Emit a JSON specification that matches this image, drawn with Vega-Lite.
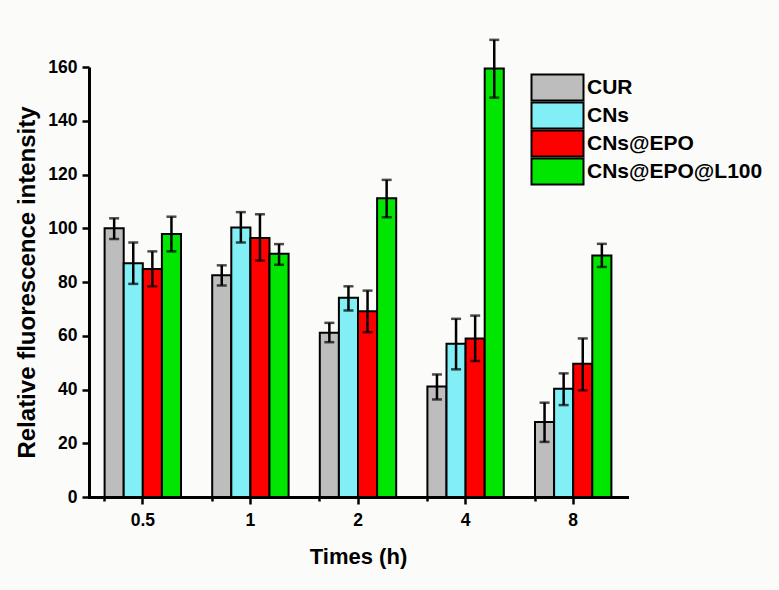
{
  "$schema": "https://vega.github.io/schema/vega-lite/v6.json",
  "autosize": {"type": "none"},
  "padding": {"left": 89, "top": 67, "right": 152, "bottom": 93},
  "width": 538,
  "height": 430,
  "background": "#fbfbf9",
  "config": {
    "view": {"stroke": null},
    "font": "Liberation Sans"
  },
  "data": {"values": [
    {"time": "0.5", "group": "CUR", "value": 100, "lo": 96, "hi": 103.7},
    {"time": "0.5", "group": "CNs", "value": 87, "lo": 79.3, "hi": 94.7},
    {"time": "0.5", "group": "CNs@EPO", "value": 84.8, "lo": 78.4, "hi": 91.4},
    {"time": "0.5", "group": "CNs@EPO@L100", "value": 97.9, "lo": 91.4, "hi": 104.3},
    {"time": "1", "group": "CUR", "value": 82.5, "lo": 78.7, "hi": 86.2},
    {"time": "1", "group": "CNs", "value": 100.3, "lo": 94.7, "hi": 106},
    {"time": "1", "group": "CNs@EPO", "value": 96.4, "lo": 88, "hi": 105.2},
    {"time": "1", "group": "CNs@EPO@L100", "value": 90.5, "lo": 86.4, "hi": 94.1},
    {"time": "2", "group": "CUR", "value": 61.1, "lo": 57.6, "hi": 64.8},
    {"time": "2", "group": "CNs", "value": 74.1, "lo": 69.4, "hi": 78.4},
    {"time": "2", "group": "CNs@EPO", "value": 69.1, "lo": 61.3, "hi": 76.8},
    {"time": "2", "group": "CNs@EPO@L100", "value": 111.2, "lo": 104.1, "hi": 118},
    {"time": "4", "group": "CUR", "value": 41.1, "lo": 36.3, "hi": 45.6},
    {"time": "4", "group": "CNs", "value": 57, "lo": 47.5, "hi": 66.3},
    {"time": "4", "group": "CNs@EPO", "value": 59, "lo": 50.6, "hi": 67.5},
    {"time": "4", "group": "CNs@EPO@L100", "value": 159.4, "lo": 148.6, "hi": 170.1},
    {"time": "8", "group": "CUR", "value": 27.9, "lo": 20.5, "hi": 35.1},
    {"time": "8", "group": "CNs", "value": 40.3, "lo": 34.2, "hi": 46},
    {"time": "8", "group": "CNs@EPO", "value": 49.6, "lo": 39.7, "hi": 59},
    {"time": "8", "group": "CNs@EPO@L100", "value": 89.9, "lo": 85.6, "hi": 94.2}
  ]},
  "encoding": {
    "xOffset": {"field": "group", "type": "nominal", "sort": ["CUR", "CNs", "CNs@EPO", "CNs@EPO@L100"], "scale": {"paddingInner": 0, "paddingOuter": 0}}
  },
  "resolve": {"axis": {"x": "independent"}},
  "layer": [
    {
      "mark": {"type": "bar", "stroke": "black", "strokeWidth": 2, "clip": false},
      "encoding": {
        "x": {"field": "time", "type": "nominal", "sort": ["0.5", "1", "2", "4", "8"],
          "scale": {"paddingInner": 0.29, "paddingOuter": 0.145},
          "axis": {"title": "Times (h)", "orient": "bottom", "labelAngle": 0, "tickSize": 7, "labelPadding": 7, "titlePadding": 18,
            "domainColor": "black", "tickColor": "black", "domainWidth": 3, "tickWidth": 2.5, "domainCap": "square",
            "labelColor": "black", "titleColor": "black", "labelFontWeight": "bold", "titleFontWeight": "bold",
            "labelFontSize": 17.5, "titleFontSize": 22, "labelFont": "Liberation Sans", "titleFont": "Liberation Sans", "grid": false}},
        "y": {"field": "value", "type": "quantitative",
          "scale": {"domain": [0, 160], "nice": false},
          "axis": {"title": "Relative fluorescence intensity", "values": [0,10,20,30,40,50,60,70,80,90,100,110,120,130,140,150,160],
            "labelExpr": "datum.value % 20 == 0 ? datum.label : ''",
            "tickSize": {"condition": {"test": "datum.value % 20 != 0", "value": 4}, "value": 7},
            "labelPadding": 5, "titlePadding": 8,
            "domainColor": "black", "tickColor": "black", "domainWidth": 3, "tickWidth": 2.5,
            "labelColor": "black", "titleColor": "black", "labelFontWeight": "bold", "titleFontWeight": "bold",
            "labelFontSize": 17.5, "titleFontSize": 24, "labelFont": "Liberation Sans", "titleFont": "Liberation Sans", "grid": false}},
        "fill": {"field": "group", "type": "nominal", "sort": ["CUR", "CNs", "CNs@EPO", "CNs@EPO@L100"],
          "scale": {"range": ["#bdbdbd", "#82eef5", "#ff0000", "#00e600"]},
          "legend": {"title": null, "orient": "none", "legendX": 458, "legendY": 10, "padding": 0,
            "symbolType": "M-4,-2H4V2H-4Z", "symbolSize": 169, "symbolStrokeColor": "black", "symbolStrokeWidth": 2,
            "labelFontSize": 21, "labelFontWeight": "bold", "labelColor": "black", "labelFont": "Liberation Sans", "labelLimit": 400, "labelOffset": 19, "rowPadding": -20}}
      }
    },
    {
      "mark": {"type": "rule", "stroke": "black", "strokeWidth": 2.5, "clip": false},
      "encoding": {
        "x": {"field": "time", "type": "nominal", "sort": ["0.5", "1", "2", "4", "8"], "axis": null},
        "y": {"field": "lo", "type": "quantitative"},
        "y2": {"field": "hi"}
      }
    },
    {
      "mark": {"type": "tick", "color": "black", "thickness": 2.5, "size": 10, "clip": false},
      "encoding": {
        "x": {"field": "time", "type": "nominal", "sort": ["0.5", "1", "2", "4", "8"], "axis": null},
        "y": {"field": "lo", "type": "quantitative"}
      }
    },
    {
      "mark": {"type": "tick", "color": "black", "thickness": 2.5, "size": 10, "clip": false},
      "encoding": {
        "x": {"field": "time", "type": "nominal", "sort": ["0.5", "1", "2", "4", "8"],
          "axis": {"orient": "bottom", "bandPosition": 0, "labels": false, "title": null, "domain": false, "tickSize": 4, "tickWidth": 2.5, "tickColor": "black", "grid": false}},
        "y": {"field": "hi", "type": "quantitative"}
      }
    }
  ]
}
